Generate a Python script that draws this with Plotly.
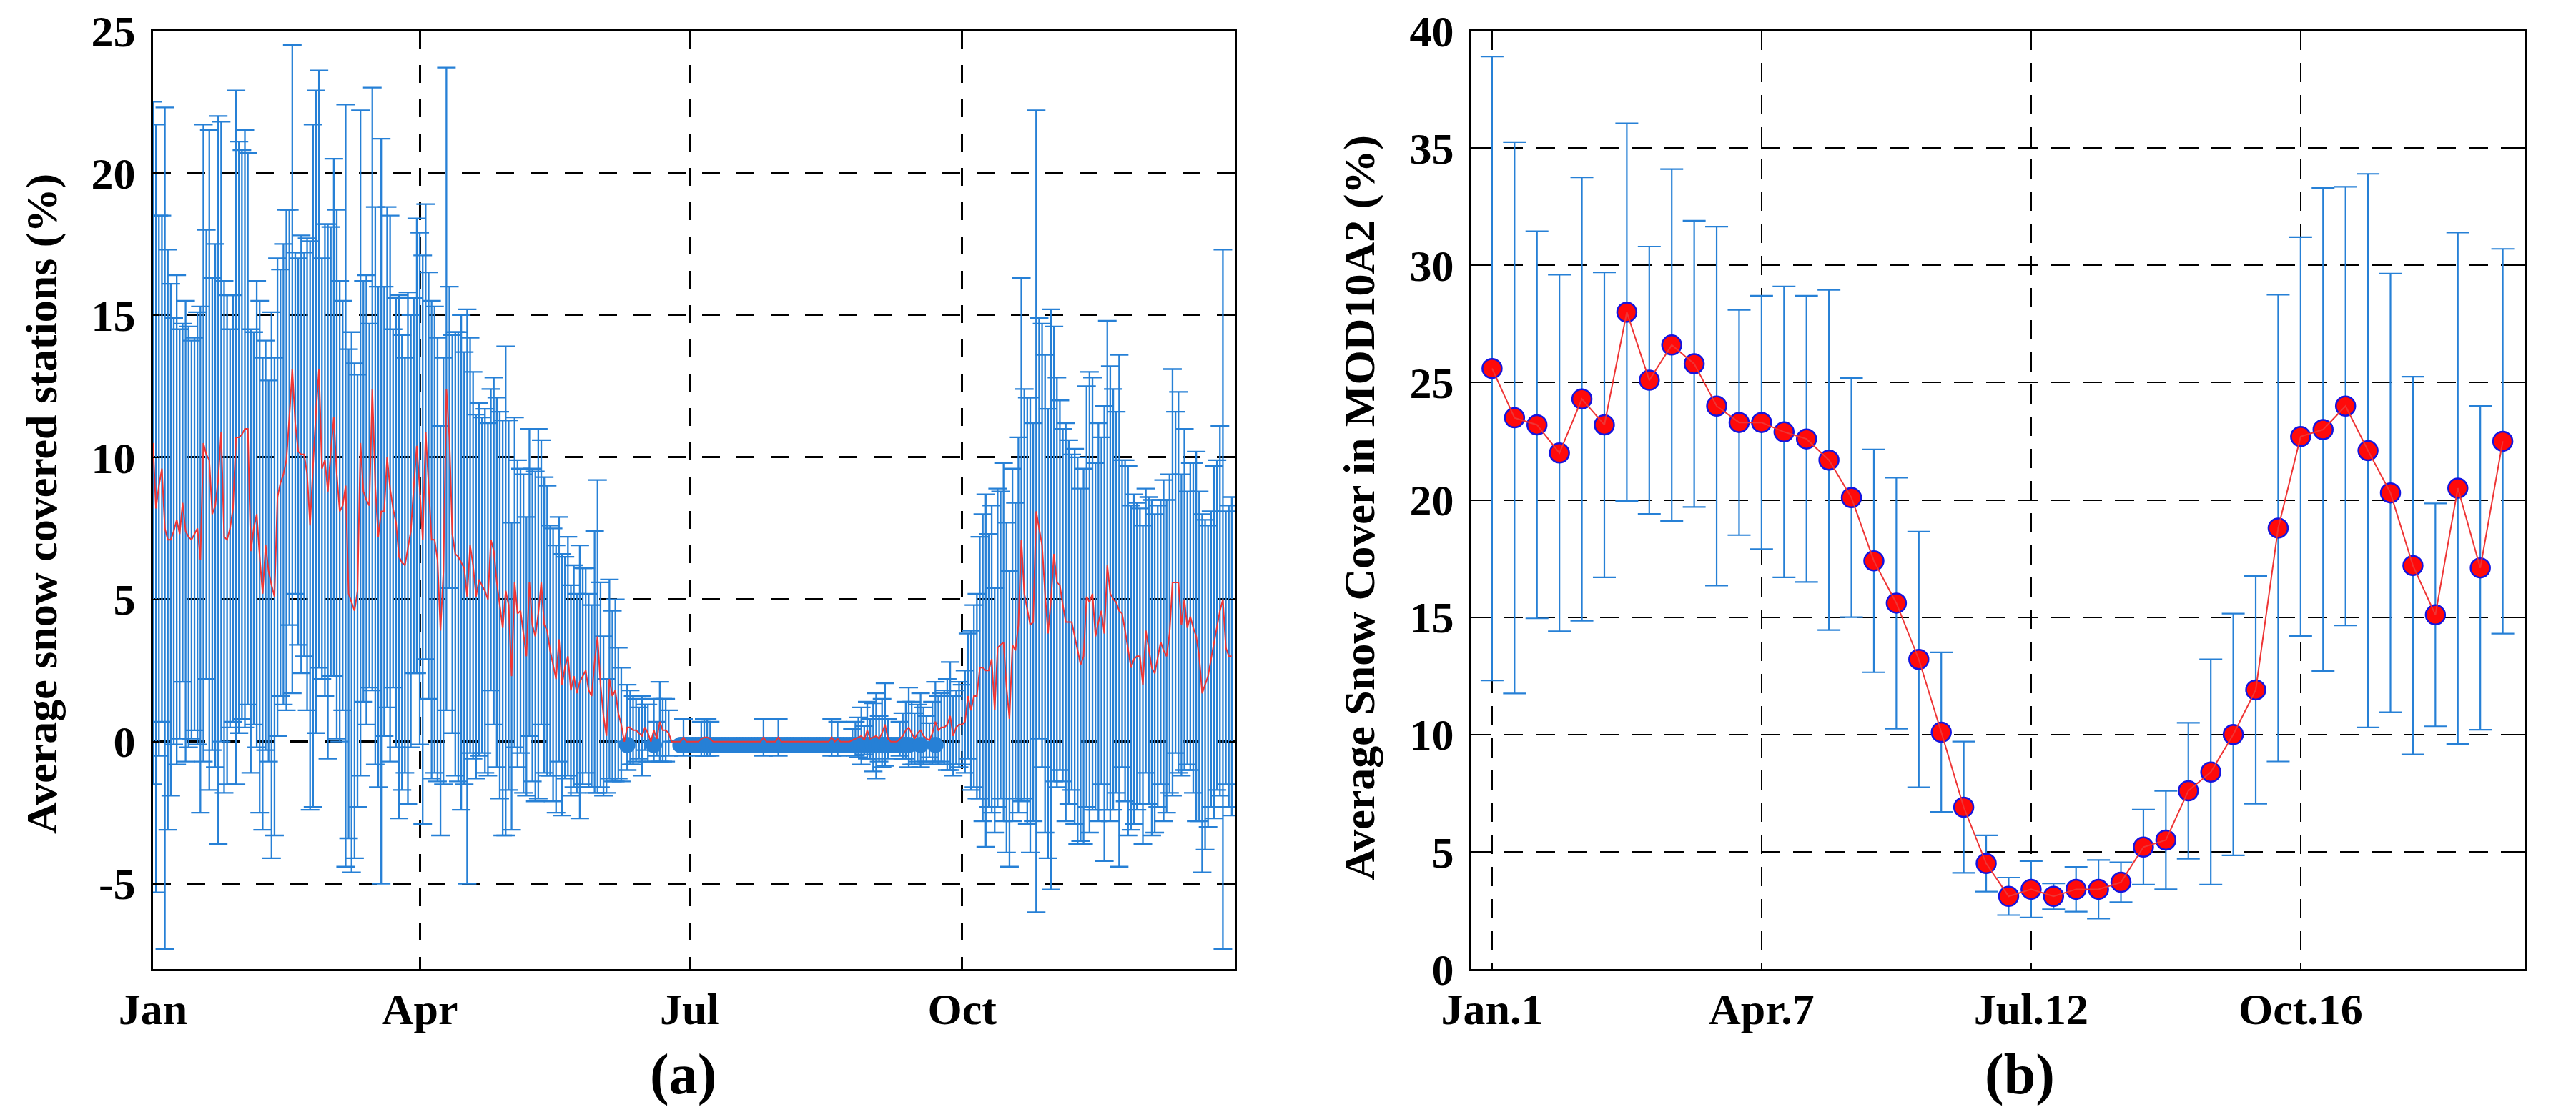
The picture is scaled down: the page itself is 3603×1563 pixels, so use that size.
import plotly.graph_objects as go

# ---- panel (a): daily mean / std of snow covered stations (%) ----
MEAN_JAN = [10.5, 8.2, 9.0, 9.6, 7.5, 7.1, 7.1, 7.4, 7.8, 7.3, 8.4, 7.4, 7.2, 7.1, 7.3, 7.5,
            6.4, 10.5, 10.1, 9.9, 8.0, 8.3, 9.2, 10.9, 7.2, 7.1, 7.5, 8.2, 10.7, 10.7, 10.8]
MEAN_FEB = [11.0, 11.0, 6.7, 7.5, 8.0, 6.5, 5.2, 6.9, 6.0, 5.5, 5.1, 8.6, 9.1, 9.4, 9.9, 11.4,
            13.1, 11.2, 10.2, 10.1, 10.1, 9.4, 7.6, 9.7, 11.6, 13.1, 9.6, 9.9]
MEAN_MAR = [8.8, 10.2, 11.4, 9.4, 8.1, 8.3, 9.0, 5.2, 4.9, 4.6, 5.3, 10.5, 8.8, 8.5, 8.3, 12.4,
            9.0, 7.2, 8.1, 8.1, 10.0, 8.9, 8.2, 7.7, 6.5, 6.3, 6.2, 6.8, 7.4, 9.0, 10.4]
MEAN_APR = [8.9, 7.1, 10.9, 9.0, 7.1, 7.1, 6.4, 3.9, 6.0, 12.4, 10.7, 7.3, 6.6, 6.5, 6.3, 6.1,
            5.1, 6.9, 6.2, 5.1, 5.7, 5.5, 5.3, 5.0, 7.1, 6.7, 5.6, 4.8, 4.0, 5.3]
MEAN_MAY = [4.8, 2.3, 5.6, 4.5, 4.6, 3.8, 3.0, 5.6, 4.1, 3.7, 4.5, 5.6, 4.1, 3.9, 3.2, 2.7,
            2.2, 3.6, 2.0, 2.6, 3.0, 1.8, 2.3, 1.7, 2.1, 2.3, 2.5, 1.8, 1.6, 2.8, 3.7]
MEAN_JUN = [2.0, 0.9, 0.2, 2.2, 1.6, 1.8, 1.0, 0.6, 0.0, 0.5, 0.5, 0.4, 0.4, 0.3, 0.2, 0.5,
            0.3, 0.0, 0.4, 0.1, 0.7, 0.4, 0.4, 0.3, 0.0, 0.0, 0.0, 0.0, 0.15, 0.0]
MEAN_JUL = [0, 0, 0, 0, 0.1, 0.15, 0.15, 0.1, 0, 0, 0, 0, 0, 0, 0, 0,
            0, 0, 0, 0, 0, 0, 0, 0, 0, 0.15, 0, 0, 0, 0, 0.15]
MEAN_AUG = [0, 0, 0, 0, 0, 0, 0, 0, 0, 0, 0, 0, 0, 0, 0, 0,
            0, 0.15, 0, 0.1, 0, 0, 0, 0, 0.05, 0.1, 0.15, 0.2, 0.05, 0.4, 0.1]
MEAN_SEP = [0.15, 0.2, 0.1, 0.3, 0.6, 0.1, 0, 0, 0, 0.1, 0.2, 0.4, 0.5, 0.3, 0.1,
            0.3, 0.4, 0.2, 0.1, 0.05, 0.3, 0.7, 0.4, 0.5, 0.5, 0.6, 0.9, 0.2, 0.5, 0.6]
MEAN_OCT = [0.6, 0.7, 1.6, 1.1, 1.6, 1.6, 2.6, 2.6, 2.5, 2.5, 2.9, 1.1, 3.3, 3.4, 3.5, 1.9,
            0.8, 3.4, 3.2, 4.1, 7.1, 5.2, 4.6, 4.1, 4.2, 8.1, 7.5, 6.9, 5.2, 3.8, 5.0]
MEAN_NOV = [6.6, 5.6, 5.5, 4.8, 4.2, 4.2, 4.2, 3.7, 3.2, 2.7, 3.0, 5.1, 4.9, 5.2, 3.7,
            4.2, 4.6, 3.8, 6.2, 5.2, 5.0, 4.9, 4.6, 4.5, 3.9, 3.2, 2.6, 2.9, 3.0, 3.0]
MEAN_DEC = [2.0, 3.9, 3.2, 2.6, 2.4, 3.0, 3.5, 3.2, 3.0, 3.8, 5.6, 5.6, 5.6, 4.1, 5.0, 4.0,
            4.4, 4.0, 3.7, 3.0, 1.7, 2.0, 2.3, 2.9, 3.5, 4.1, 4.6, 5.0, 3.3, 3.0, 3.0]

STD_JAN = [12.0, 13.5, 9.5, 8.9, 14.8, 10.2, 9.0, 7.5, 8.6, 7.2, 6.3, 8.1, 7.4, 7.0, 6.9, 7.6,
           8.9, 11.2, 7.9, 11.6, 8.3, 9.2, 12.8, 10.9, 9.0, 8.6, 7.0, 7.5, 12.2, 10.4, 10.0]
STD_FEB = [10.5, 9.7, 7.8, 6.9, 8.2, 9.0, 8.3, 7.2, 6.7, 9.6, 8.4, 8.4, 7.5, 8.1, 8.8, 7.3,
           11.4, 6.0, 6.8, 7.7, 7.1, 8.3, 10.0, 12.0, 11.3, 10.5, 7.4, 8.3]
STD_MAR = [9.4, 7.9, 9.1, 9.3, 8.1, 7.2, 13.4, 8.6, 9.5, 8.7, 7.6, 11.7, 7.4, 7.9, 6.4, 10.6,
           9.8, 8.8, 13.1, 7.9, 8.8, 9.6, 6.3, 7.9, 9.2, 8.0, 7.3, 9.0, 7.6, 6.6, 8.0]
STD_APR = [9.0, 10.0, 8.0, 7.5, 8.4, 8.2, 7.8, 7.2, 7.5, 11.3, 5.3, 7.0, 7.8, 7.9, 8.7, 7.6,
           10.1, 7.3, 6.8, 6.4, 6.2, 5.9, 6.4, 6.2, 5.3, 6.1, 6.5, 6.8, 7.3, 8.6]
STD_MAY = [6.5, 5.4, 5.8, 5.4, 5.0, 5.6, 4.9, 5.4, 5.5, 5.8, 6.5, 5.0, 5.2, 5.1, 4.4, 4.8,
           4.7, 4.3, 4.6, 3.9, 4.2, 3.7, 3.9, 3.5, 4.8, 3.8, 3.6, 3.4, 3.2, 4.6, 5.5]
STD_JUN = [3.6, 2.8, 2.0, 3.5, 3.0, 3.2, 2.3, 2.0, 0, 1.5, 1.3, 1.2, 1.1, 0.9, 1.4, 0.8,
           1.0, 0, 1.1, 0.6, 1.4, 1.1, 1.1, 0.8, 0, 0, 0, 0, 0.65, 0]
STD_JUL = [0, 0, 0, 0, 0.6, 0.65, 0.65, 0.6, 0, 0, 0, 0, 0, 0, 0, 0,
           0, 0, 0, 0, 0, 0, 0, 0, 0, 0.65, 0, 0, 0, 0, 0.65]
STD_AUG = [0, 0, 0, 0, 0, 0, 0, 0, 0, 0, 0, 0, 0, 0, 0, 0,
           0, 0.65, 0, 0.6, 0, 0, 0, 0, 0.4, 0.6, 0.7, 1.0, 0.5, 1.0, 0.7]
STD_SEP = [1.2, 1.5, 0.8, 1.2, 1.45, 0.7, 0, 0, 0, 0.6, 0.8, 1.0, 1.4, 1.1, 0.9,
           1.0, 1.3, 1.0, 0.8, 0.6, 1.1, 1.4, 1.2, 1.2, 1.3, 1.6, 1.9, 1.4, 1.3, 1.5]
STD_OCT = [1.4, 1.8, 2.2, 2.8, 3.2, 3.6, 4.6, 5.4, 6.2, 4.8, 5.4, 4.3, 5.6, 5.4, 6.3, 5.8,
           5.2, 6.2, 5.2, 6.6, 9.2, 7.2, 7.5, 8.0, 7.0, 14.1, 7.4, 7.8, 8.4, 7.9, 10.2]
STD_NOV = [8.0, 7.2, 6.5, 6.2, 7.0, 6.4, 5.9, 6.6, 6.8, 6.2, 6.6, 7.4, 8.1, 7.6, 6.1,
           7.0, 6.1, 8.0, 8.6, 8.0, 7.4, 6.7, 9.0, 5.4, 6.0, 6.5, 5.7, 5.8, 5.4, 5.2]
STD_DEC = [5.6, 5.0, 5.4, 5.9, 5.6, 5.3, 5.0, 6.0, 5.5, 5.6, 7.5, 6.0, 6.7, 5.3, 6.0, 4.8,
           5.4, 5.8, 6.5, 5.8, 6.3, 5.8, 5.3, 5.2, 6.2, 5.8, 6.5, 12.3, 4.8, 5.3, 5.6]

# days with no snow at any station (blue dots on the zero line)
ZERO_DAYS = [161, 170] + list(range(179, 257)) + [260, 265]

MONTH_TICKS = [1, 91, 182, 274]
MONTH_LABELS = ["Jan", "Apr", "Jul", "Oct"]
Y_A_TICKS = [-5, 0, 5, 10, 15, 20, 25]

# ---- panel (b): 8-day MOD10A2 composites ----
B_MEAN = [25.6, 23.5, 23.2, 22.0, 24.3, 23.2, 28.0, 25.1, 26.6, 25.8, 24.0, 23.3,
          23.3, 22.9, 22.6, 21.7, 20.1, 17.4, 15.6, 13.2, 10.1, 6.9, 4.5, 3.1,
          3.4, 3.1, 3.4, 3.4, 3.7, 5.2, 5.5, 7.6, 8.4, 10.0, 11.9, 18.8,
          22.7, 23.0, 24.0, 22.1, 20.3, 17.2, 15.1, 20.5, 17.1, 22.5]
B_STD = [13.3, 11.75, 8.25, 7.6, 9.45, 6.5, 8.05, 5.7, 7.5, 6.1, 7.65, 4.8,
         5.4, 6.2, 6.1, 7.25, 5.1, 4.75, 5.35, 5.45, 3.4, 2.8, 1.2, 0.8,
         1.2, 0.55, 0.95, 1.25, 0.85, 1.6, 2.1, 2.9, 4.8, 5.15, 4.85, 9.95,
         8.5, 10.3, 9.35, 11.8, 9.35, 8.05, 4.75, 10.9, 6.9, 8.2]
B_TICKS = [0, 12, 24, 36]
B_LABELS = ["Jan.1", "Apr.7", "Jul.12", "Oct.16"]
Y_B_TICKS = [0, 5, 10, 15, 20, 25, 30, 35, 40]

mean_a = (MEAN_JAN + MEAN_FEB + MEAN_MAR + MEAN_APR + MEAN_MAY + MEAN_JUN
          + MEAN_JUL + MEAN_AUG + MEAN_SEP + MEAN_OCT + MEAN_NOV + MEAN_DEC)
std_a = (STD_JAN + STD_FEB + STD_MAR + STD_APR + STD_MAY + STD_JUN
         + STD_JUL + STD_AUG + STD_SEP + STD_OCT + STD_NOV + STD_DEC)
days = list(range(1, len(mean_a) + 1))
b_idx = list(range(len(B_MEAN)))

W, H = 3603, 1563
BLUE = "#2680d6"
RED = "#ee3535"
FONT = "Liberation Serif"
FS = 62

fig = go.Figure()

# (a)
fig.add_trace(go.Scatter(
    x=days, y=mean_a, mode="markers",
    marker=dict(size=1, color=BLUE),
    error_y=dict(type="data", array=std_a, color=BLUE, thickness=2.3, width=13),
    xaxis="x", yaxis="y"))
fig.add_trace(go.Scatter(
    x=ZERO_DAYS, y=[-0.12] * len(ZERO_DAYS), mode="markers",
    marker=dict(size=23, color=BLUE),
    xaxis="x", yaxis="y"))
fig.add_trace(go.Scatter(
    x=days, y=mean_a, mode="lines",
    line=dict(color=RED, width=2),
    xaxis="x", yaxis="y"))

# (b)
fig.add_trace(go.Scatter(
    x=b_idx, y=B_MEAN, mode="markers",
    marker=dict(size=27, color="#ff0a0a", line=dict(color="#1414e0", width=2.5)),
    error_y=dict(type="data", array=B_STD, color=BLUE, thickness=2.2, width=16),
    xaxis="x2", yaxis="y2"))
fig.add_trace(go.Scatter(
    x=b_idx, y=B_MEAN, mode="lines",
    line=dict(color=RED, width=2),
    xaxis="x2", yaxis="y2"))

tickfont = dict(family=FONT, size=FS, color="black", weight="bold")
common = dict(showline=True, mirror="ticks", linecolor="black", linewidth=3,
              ticks="inside", ticklen=8, tickwidth=2, tickcolor="black",
              showgrid=True, gridcolor="black", zeroline=False, automargin=False,
              tickfont=tickfont, fixedrange=True)

dom_y = [1 - 1356 / H, 1 - 43 / H]

fig.update_layout(
    width=W, height=H,
    margin=dict(l=0, r=0, t=0, b=0, autoexpand=False),
    paper_bgcolor="white", plot_bgcolor="white",
    showlegend=False,
    xaxis=dict(domain=[214 / W, 1727 / W], range=[1, 366],
               tickvals=MONTH_TICKS, ticktext=MONTH_LABELS,
               griddash="25px,23px", gridwidth=2.5, ticklabelstandoff=0, **common),
    yaxis=dict(domain=dom_y, range=[-8, 25],
               tickvals=Y_A_TICKS, ticktext=[str(v) for v in Y_A_TICKS],
               griddash="25px,23px", gridwidth=2.5, ticklabelstandoff=9, **common),
    xaxis2=dict(domain=[2058 / W, 3532 / W], range=[-0.92, 46.0], anchor="y2",
                tickvals=B_TICKS, ticktext=B_LABELS,
                griddash="27px,18px", gridwidth=2, ticklabelstandoff=0, **common),
    yaxis2=dict(domain=dom_y, range=[0, 40], anchor="x2",
                tickvals=Y_B_TICKS, ticktext=[str(v) for v in Y_B_TICKS],
                griddash="27px,18px", gridwidth=2, ticklabelstandoff=9, **common),
)

titlefont = dict(family=FONT, size=FS, color="black", weight="bold")
labelfont = dict(family=FONT, size=80, color="black", weight="bold")
fig.add_annotation(text="Average snow covered stations (%)", textangle=-90,
                   x=58 / W, y=1 - 705 / H, font=titlefont)
fig.add_annotation(text="Average Snow Cover in MOD10A2 (%)", textangle=-90,
                   x=1902 / W, y=1 - 710 / H, font=titlefont)
fig.add_annotation(text="(a)", x=955 / W, y=1 - 1503 / H, font=labelfont)
fig.add_annotation(text="(b)", x=2825 / W, y=1 - 1503 / H, font=labelfont)
fig.update_annotations(xref="paper", yref="paper", showarrow=False,
                       xanchor="center", yanchor="middle")

fig.write_html("out.html", config={"displayModeBar": False},
               post_script="document.body.style.margin='0';")
